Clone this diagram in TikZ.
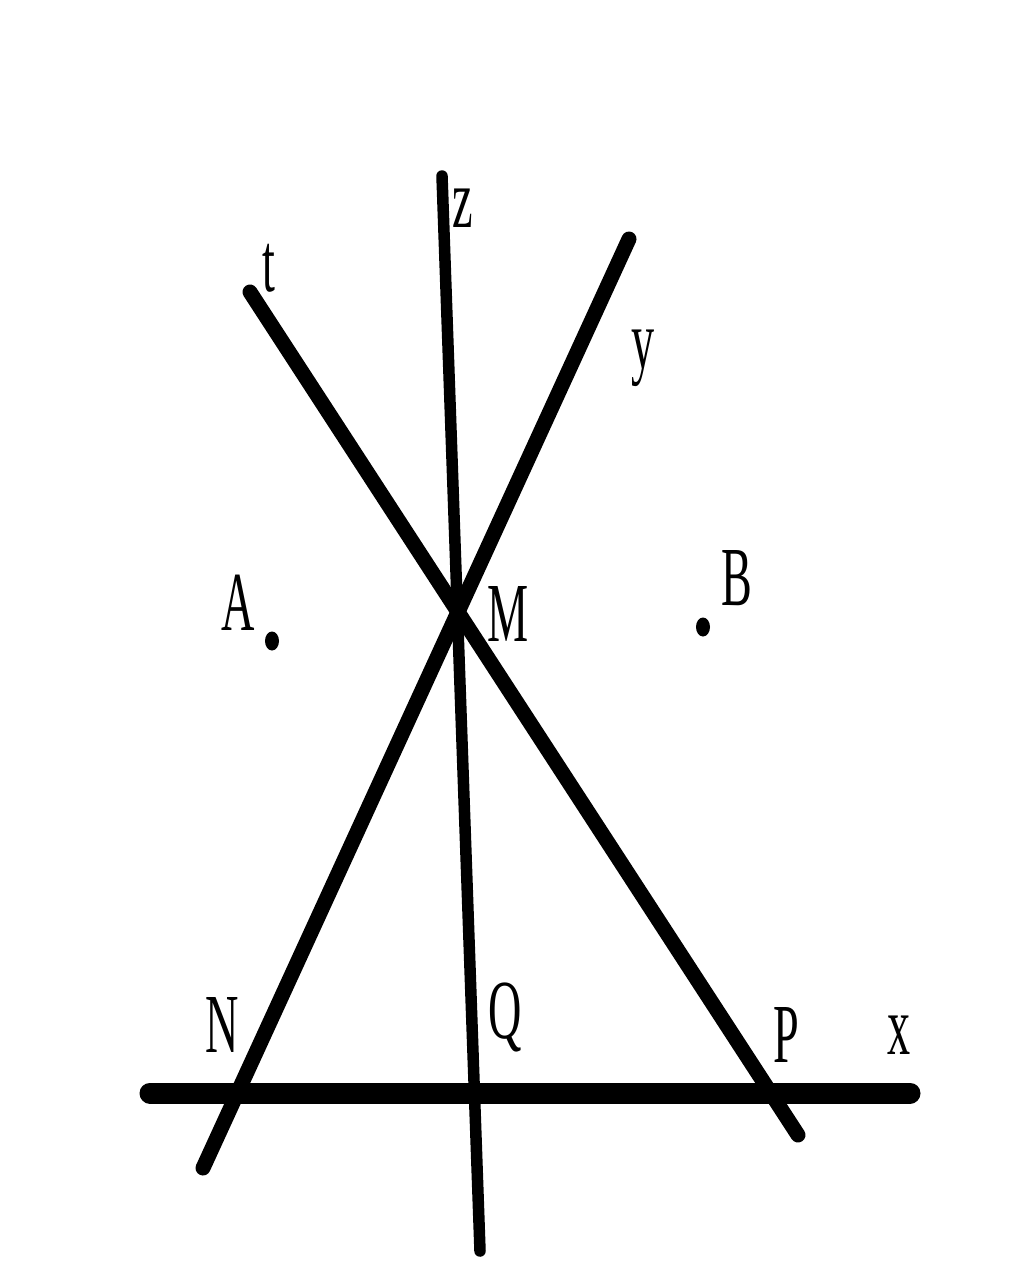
\documentclass[tikz,border=0pt]{standalone}
\usepackage{fontspec}
\usetikzlibrary{shapes.geometric}
\newfontfamily\lblfont[FakeStretch=0.55]{Liberation Serif}
\begin{document}
\begin{tikzpicture}[x=1pt,y=-1pt,
  ln/.style={line width=15pt,line cap=round},
  lbl/.style={font=\lblfont\fontsize{84}{90}\selectfont,inner sep=0pt,anchor=center},
  pt/.style={ellipse,fill=black,inner sep=0pt,minimum width=14pt,minimum height=19pt}]
\useasboundingbox (0,0) rectangle (1024,1280);
% line endpoints
\coordinate (xa) at (150,1093);
\coordinate (xb) at (910,1093);
\coordinate (za) at (442,176);
\coordinate (zb) at (480,1251);
\coordinate (ta) at (250,292);
\coordinate (tb) at (798,1135);
\coordinate (ya) at (629,239);
\coordinate (yb) at (203,1168);
% lines
\draw[ln,line width=21pt] (xa) -- (xb);
\draw[ln,line width=11.5pt] (za) -- (zb);
\draw[ln] (ta) -- (tb);
\draw[ln] (ya) -- (yb);
% points
\node[pt] (A) at (272,641) {};
\node[pt] (B) at (703,627) {};
% labels
\node[lbl] (lt) at (269,268) {t};
\node[lbl] (lz) at (463,208) {z};
\node[lbl] (ly) at (643,358) {y};
\node[lbl] (lA) at (238,603) {A};
\node[lbl] (lB) at (737,578) {B};
\node[lbl] (lM) at (508,614) {M};
\node[lbl] (lN) at (222,1025) {N};
\node[lbl] (lQ) at (505,1017) {Q};
\node[lbl] (lP) at (786,1035) {P};
\node[lbl] (lx) at (899,1035) {x};
\end{tikzpicture}
\end{document}
